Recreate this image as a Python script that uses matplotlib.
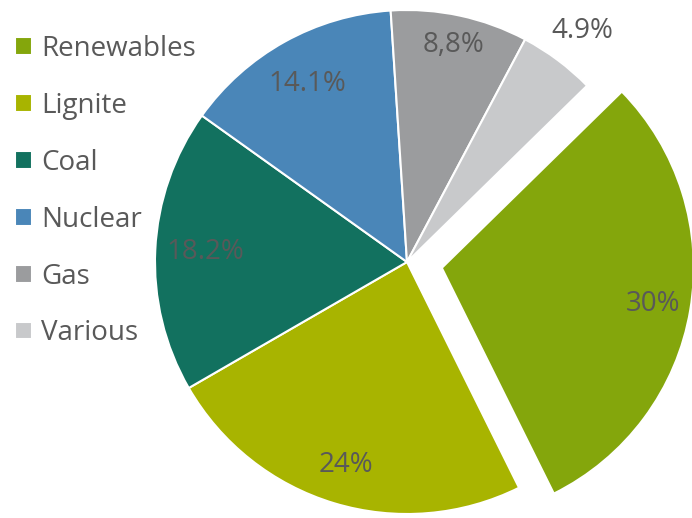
import numpy as np
import matplotlib.pyplot as plt

# dados
sources = ['Renewables', 'Lignite', 'Coal', 'Nuclear', 'Gas', 'Various']
shares = [30, 24, 18.2, 14.1, 8.8, 4.9]
pct_labels = ['30%', '24%', '18.2%', '14.1%', '8,8%', '4.9%']

colors = ['#84a60c', '#a8b400', '#12715f', '#4a86b8', '#9b9c9e', '#c8c9cb']
explode_frac = [0.14, 0, 0, 0, 0, 0]
label_dist = [0.85, 0.84, 0.80, 0.81, 0.88, 1.16]

plt.rcParams['font.family'] = ['Open Sans', 'DejaVu Sans']

W, H = 692, 518
fig = plt.figure(figsize=(W / 100, H / 100), dpi=100)
ax = fig.add_axes([0, 0, 1, 1])

cx, cy, R = 407, H - 262, 252
# o explode do matplotlib não é escalado pelo raio
explode = [e * R for e in explode_frac]
wedges, _ = ax.pie(shares, colors=colors, explode=explode, startangle=44.4,
                   counterclock=False, center=(cx, cy), radius=R,
                   wedgeprops=dict(edgecolor='white', linewidth=1.5))

# rótulos de percentagem
for w, lab, d in zip(wedges, pct_labels, label_dist):
    ang = np.deg2rad((w.theta1 + w.theta2) / 2)
    x0, y0 = w.center
    ax.text(x0 + R * d * np.cos(ang), y0 + R * d * np.sin(ang) - (3 if d > 1 else 0), lab,
            ha='center', va='center', fontsize=20, color='#595959')

ax.set_xlim(0, W)
ax.set_ylim(0, H)
ax.set_aspect('equal')
ax.axis('off')

leg = ax.legend(wedges, sources, loc='upper left', bbox_to_anchor=(-10 / W, 1 - 10 / H),
                frameon=False, fontsize=20, handlelength=0.6, handleheight=0.6,
                handletextpad=0.35, labelspacing=1.04, borderaxespad=0.5)
for t in leg.get_texts():
    t.set_color('#595959')
for h in leg.legend_handles:
    h.set_edgecolor('white')

fig.savefig('out.png', dpi=100)
